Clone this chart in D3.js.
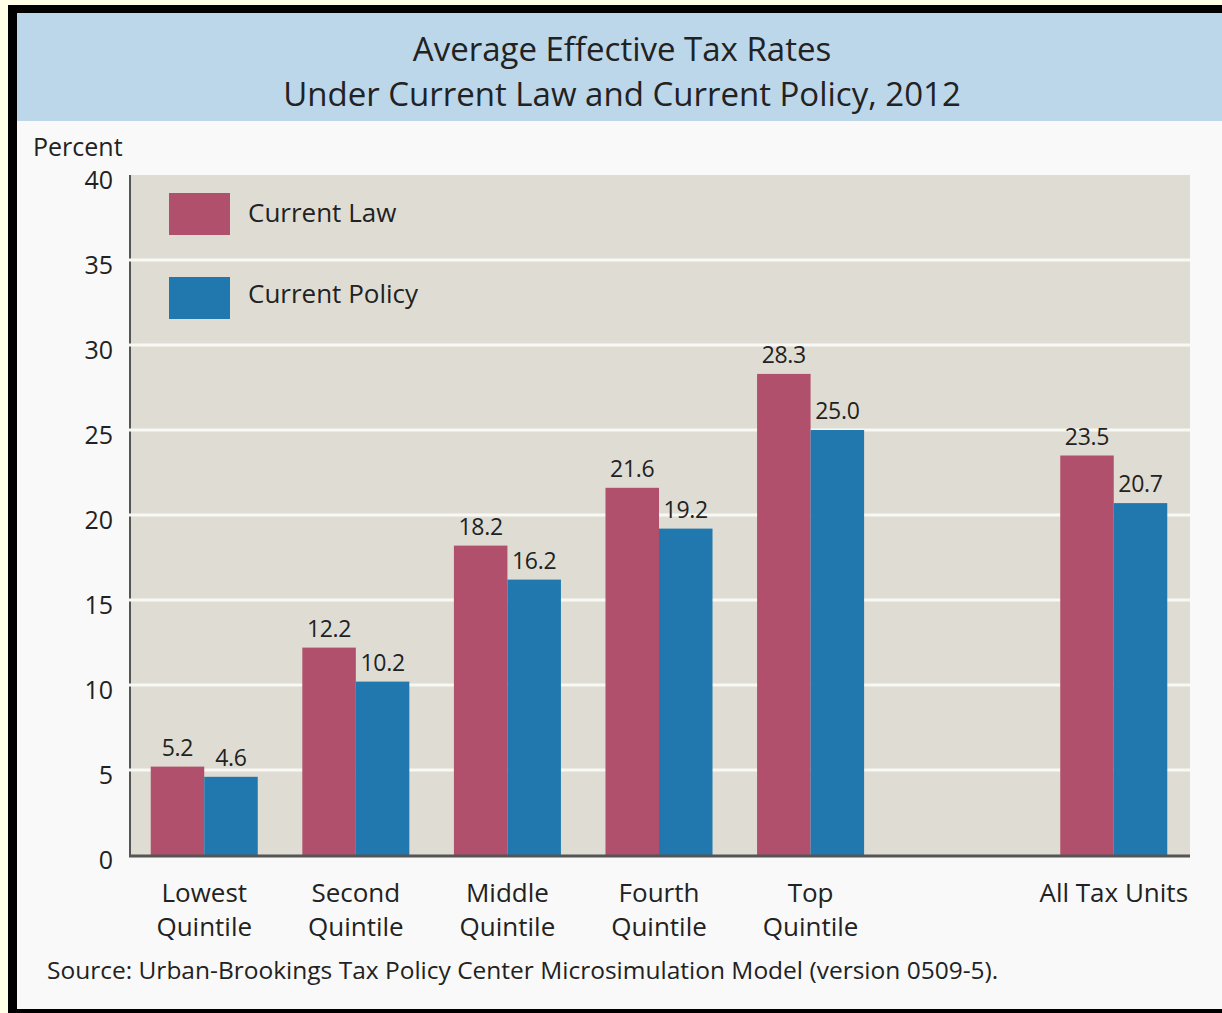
<!DOCTYPE html>
<html>
<head>
<meta charset="utf-8">
<script src="https://cdn.jsdelivr.net/npm/d3@7"></script>
<style>
  html, body { margin: 0; padding: 0; background: #fffee6; }
  svg { display: block; }
  text { font-family: "Open Sans", "Noto Sans", sans-serif; fill: #222; }
</style>
</head>
<body>
<svg id="chart" width="1222" height="1013"></svg>
<script>
// Average effective tax rates by income group, 2012
const categories = ["Lowest Quintile", "Second Quintile", "Middle Quintile", "Fourth Quintile", "Top Quintile", "All Tax Units"];
const currentLaw = [5.2, 12.2, 18.2, 21.6, 28.3, 23.5];
const currentPolicy = [4.6, 10.2, 16.2, 19.2, 25.0, 20.7];
const seriesNames = ["Current Law", "Current Policy"];
const yTicks = [0, 5, 10, 15, 20, 25, 30, 35, 40];

const colors = ["#b0506c", "#2078ae"];

const svg = d3.select("#chart");

// frame: black border, title band, page background
svg.append("rect").attr("x", 8).attr("y", 5).attr("width", 1214).attr("height", 1008).attr("fill", "#000");
svg.append("rect").attr("x", 17).attr("y", 13).attr("width", 1205).attr("height", 996).attr("fill", "#f9f9f9");
svg.append("rect").attr("x", 17).attr("y", 13).attr("width", 1205).attr("height", 108).attr("fill", "#bcd6ea");

svg.append("text").attr("x", 622).attr("y", 61).attr("text-anchor", "middle")
  .style("font-size", "33px").text("Average Effective Tax Rates");
svg.append("text").attr("x", 622).attr("y", 106).attr("text-anchor", "middle")
  .style("font-size", "33px").text("Under Current Law and Current Policy, 2012");

const plot = { left: 130, right: 1190, top: 175, bottom: 855 };

// an empty slot separates the quintiles from the all-units group
const slots = [...categories.slice(0, 5), "_gap", categories[5]];
const x = d3.scaleBand().domain(slots).range([128, 1190]).paddingInner(0.294).paddingOuter(0.15);
const xs = d3.scaleBand().domain(seriesNames).range([0, x.bandwidth()]);
const y = d3.scaleLinear().domain([0, 40]).range([plot.bottom, plot.top]);

// plot background
svg.append("rect").attr("x", plot.left).attr("y", plot.top)
  .attr("width", plot.right - plot.left).attr("height", plot.bottom - plot.top).attr("fill", "#dfddd3");

// y axis line
svg.append("line").attr("x1", plot.left).attr("x2", plot.left).attr("y1", plot.top).attr("y2", plot.bottom)
  .attr("stroke", "#555").attr("stroke-width", 2);

// gridlines
svg.append("g").selectAll("line").data(yTicks.filter(t => t > 0 && t < 40)).join("line")
  .attr("x1", plot.left - 2).attr("x2", plot.right)
  .attr("y1", d => y(d)).attr("y2", d => y(d))
  .attr("stroke", "#f8f8f4").attr("stroke-width", 3);

// y tick labels
const yAxis = d3.axisLeft(y).tickValues(yTicks).tickSize(0).tickPadding(0);
const gy = svg.append("g").attr("transform", `translate(113,5)`).call(yAxis);
gy.select(".domain").remove();
gy.selectAll("text").style("font-size", "25px").style("font-family", "'Open Sans', sans-serif").attr("fill", "#2a2a2a");

svg.append("text").attr("x", 33).attr("y", 156).style("font-size", "25px").attr("fill", "#2a2a2a").text("Percent");

// bars
const rows = categories.map((c, i) => ({ cat: c, values: [currentLaw[i], currentPolicy[i]] }));
const groups = svg.append("g").selectAll("g").data(rows).join("g")
  .attr("transform", d => `translate(${x(d.cat)},0)`);

groups.selectAll("rect").data(d => d.values.map((v, j) => ({ v, s: seriesNames[j], j }))).join("rect")
  .attr("x", d => xs(d.s)).attr("width", xs.bandwidth())
  .attr("y", d => y(d.v)).attr("height", d => y(0) - y(d.v))
  .attr("fill", d => colors[d.j]);

groups.selectAll("text").data(d => d.values.map((v, j) => ({ v, s: seriesNames[j] }))).join("text")
  .attr("x", d => xs(d.s) + xs.bandwidth() / 2).attr("y", d => y(d.v) - 11)
  .attr("text-anchor", "middle").style("font-size", "23px").style("letter-spacing", "-0.3px")
  .text(d => d.v.toFixed(1));

// x axis line
svg.append("line").attr("x1", plot.left - 1).attr("x2", plot.right).attr("y1", plot.bottom + 1).attr("y2", plot.bottom + 1)
  .attr("stroke", "#555").attr("stroke-width", 3);

// category labels
const xl = svg.append("g").selectAll("text").data(categories).join("text")
  .attr("x", d => x(d) + x.bandwidth() / 2).attr("text-anchor", "middle")
  .style("font-size", "26px").attr("fill", "#2a2a2a");
xl.each(function (d) {
  const words = d === "All Tax Units" ? [d] : d.split(" ");
  d3.select(this).selectAll("tspan").data(words).join("tspan")
    .attr("x", x(d) + x.bandwidth() / 2).attr("y", (w, i) => 902 + i * 34).text(w => w);
});

// legend
const legend = svg.append("g").selectAll("g").data(seriesNames).join("g")
  .attr("transform", (d, i) => `translate(169,${193 + i * 84})`);
legend.append("rect").attr("width", 61).attr("height", 42).attr("fill", (d, i) => colors[i]);
legend.append("text").attr("x", 79).attr("y", (d, i) => 29 - i * 3).style("font-size", "26px")
  .attr("fill", "#222").text(d => d);

// source note
svg.append("text").attr("x", 47).attr("y", 979).style("font-size", "24.5px")
  .attr("fill", "#222").text("Source: Urban-Brookings Tax Policy Center Microsimulation Model (version 0509-5).");
</script>
</body>
</html>
